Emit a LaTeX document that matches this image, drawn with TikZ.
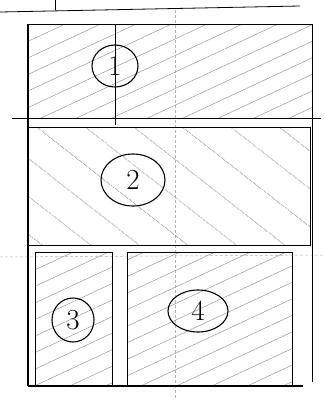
\documentclass[tikz,border=0pt]{standalone}
\usetikzlibrary{patterns.meta,shapes.geometric}
\tikzset{
  cell/.style={draw,line width=1pt,inner sep=0pt,anchor=north west},
  hatch/.style={pattern={Lines[angle=25,distance=15pt,line width=0.5pt]},pattern color=black!40},
  sweep/.style={pattern={Lines[angle=-38,distance=30pt,line width=0.6pt]},pattern color=black!45},
  tag/.style={draw,ellipse,line width=1.1pt,inner sep=0pt,font=\fontsize{29}{32}\selectfont},
  guide/.style={densely dashed,black!30,line width=0.5pt},
  frame/.style={line width=1.1pt}
}

\begin{document}
\begin{tikzpicture}[x=1pt,y=-1pt]
  \useasboundingbox (0,0) rectangle (324,402);
  % guides
  \draw[guide] (175,10) -- (175,398);
  \draw[guide] (0,257) -- (324,255);
  % the three rows
  \node[cell,hatch,minimum width=284pt,minimum height=94pt] (row1) at (28,24) {};
  \node[cell,sweep,minimum width=282pt,minimum height=118pt] (row2) at (28,127) {};
  \node[cell,hatch,minimum width=77pt,minimum height=133pt] (cell3) at (35,252) {};
  \node[cell,hatch,minimum width=165pt,minimum height=133pt] (cell4) at (127,252) {};
  % outer frame and paper edge
  \draw[frame] (row1.north west) -- (cell3.south west -| row1.west);
  \draw[frame] (row1.north east) -- ([yshift=4pt]cell4.south east -| row1.east);
  \draw[frame] (cell3.south west -| row1.west) -- ([xshift=10pt]cell4.south east);
  \draw[frame] (row1.south west) ++(-16,0) -- ([xshift=8pt]row1.south east);
  \draw[line width=0.8pt] (0,12) -- (300,6);
  \draw[line width=0.8pt] (55,0) -- (55,10);
  % labels
  \node[tag,minimum width=46pt,minimum height=42pt] (n1) at (115,66) {1};
  \draw[line width=1pt] (n1 |- row1.north) -- ([yshift=-6pt]n1 |- row1.south);
  \node[tag,minimum width=64pt,minimum height=52pt] (n2) at (133,180) {2};
  \node[tag,minimum width=42pt,minimum height=44pt] (n3) at (73,320) {3};
  \node[tag,minimum width=60pt,minimum height=42pt] (n4) at (198,311) {4};
\end{tikzpicture}
\end{document}
